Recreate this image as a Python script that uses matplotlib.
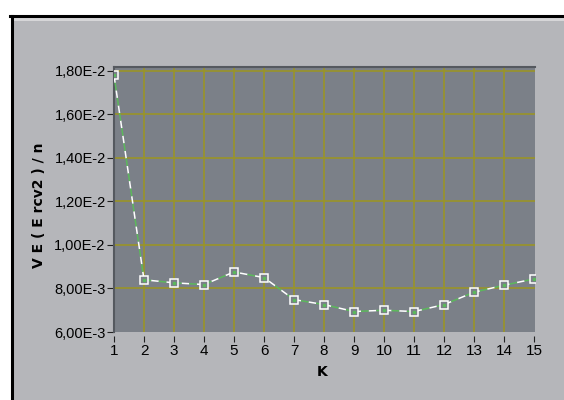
import numpy as np
import matplotlib.pyplot as plt
from matplotlib.patches import Rectangle

# values
k = [1, 2, 3, 4, 5, 6, 7, 8, 9, 10, 11, 12, 13, 14, 15]
ve = [0.0178, 0.0084, 0.00826, 0.00818, 0.00876, 0.0085, 0.00749, 0.00726,
      0.00694, 0.0070, 0.00694, 0.00726, 0.00783, 0.00815, 0.00844]
ytick_vals = [0.006, 0.008, 0.010, 0.012, 0.014, 0.016, 0.018]
ytick_labels = ["6,00E-3", "8,00E-3", "1,00E-2", "1,20E-2", "1,40E-2", "1,60E-2", "1,80E-2"]

panel = "#b5b6ba"
plot_bg = "#7b8088"
grid_col = "#9a9428"
green = "#5cb85c"

fig = plt.figure(figsize=(5.64, 4.0), dpi=100)
fig.patch.set_facecolor("white")

# gray panel with black border on top and left
fig.add_artist(Rectangle((13 / 564, 0), 1, 1 - 17 / 400, transform=fig.transFigure,
                         facecolor=panel, edgecolor="none", zorder=-2))
fig.add_artist(Rectangle((13 / 564, 1 - 21 / 400), 1, 3 / 400, transform=fig.transFigure,
                         facecolor="#d6d6d8", edgecolor="none", zorder=-1))
fig.add_artist(plt.Line2D([10 / 564, 1], [1 - 16 / 400] * 2, transform=fig.transFigure,
                          color="black", lw=2.2, zorder=-1))
fig.add_artist(plt.Line2D([11.5 / 564] * 2, [0, 1 - 16 / 400], transform=fig.transFigure,
                          color="black", lw=2.2, zorder=-1))

ax = fig.add_axes([114 / 564, 1 - 332 / 400, (535 - 114) / 564, (332 - 67) / 400])
ax.set_zorder(2)
ax.set_facecolor(plot_bg)

ax.set_xlim(1, 15.03)
ax.set_ylim(0.006, 0.01818)
ax.set_xticks(k)
ax.set_yticks(ytick_vals)
ax.set_yticklabels(ytick_labels)

# inner grid lines only (no line on the plot edges)
for xv in k[1:-1]:
    ax.axvline(xv, color=grid_col, lw=1.2, zorder=1)
for yv in ytick_vals[1:]:
    ax.axhline(yv, color=grid_col, lw=1.2, zorder=1)

for s in ["right", "bottom"]:
    ax.spines[s].set_visible(False)
ax.spines["top"].set_color("#55595f")
ax.spines["left"].set_color("#55595f")
ax.spines["top"].set_linewidth(1.5)
ax.spines["left"].set_linewidth(1.5)
ax.spines["bottom"].set_position(("outward", 3))

ax.tick_params(axis="x", length=4, width=0.8, color="#222222", pad=1.5, labelsize=11)
ax.tick_params(axis="y", length=5, width=0.8, color="#222222", pad=1, labelsize=10.5)
for t in ax.get_xticklabels() + ax.get_yticklabels():
    t.set_family("Liberation Sans")

# dashed line alternating white / green
ax.plot(k, ve, color="white", lw=1.1, linestyle=(0, (5, 5)), zorder=3)
ax.plot(k, ve, color=green, lw=1.1, linestyle=(5, (5, 5)), zorder=3)
ax.plot(k, ve, linestyle="none", marker="s", ms=6, mfc=plot_bg, mec="white", mew=1.1, zorder=4)
ax.plot(k, ve, linestyle="none", marker="s", ms=1.6, mfc=green, mec=green, zorder=5)

ax.set_xlabel("K", fontsize=10, fontweight="bold")
ax.xaxis.set_label_coords((322 - 114) / (535 - 114), -0.125)
ax.set_ylabel("V E ( E rcv2 ) / n", fontsize=10, fontweight="bold")
ax.yaxis.set_label_coords(-(114 - 46) / (535 - 114), 0.48)

fig.savefig("out.png", dpi=100)
